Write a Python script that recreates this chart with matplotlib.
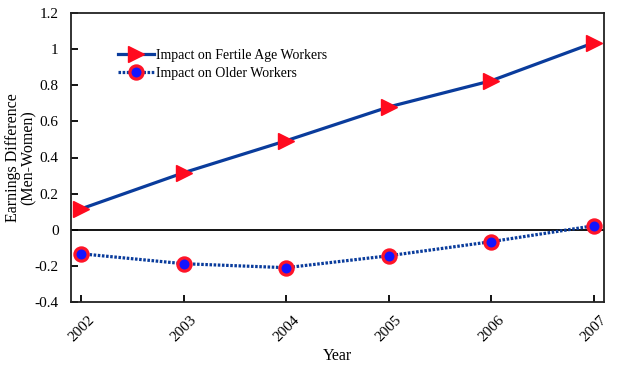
import matplotlib
matplotlib.use("Agg")
import matplotlib.pyplot as plt

years = [2002, 2003, 2004, 2005, 2006, 2007]
fertile = [0.116, 0.316, 0.493, 0.680, 0.825, 1.035]
older = [-0.133, -0.188, -0.210, -0.144, -0.066, 0.022]
yticks = [-0.4, -0.2, 0, 0.2, 0.4, 0.6, 0.8, 1, 1.2]
ytick_labels = ["-0.4", "-0.2", "0", "0.2", "0.4", "0.6", "0.8", "1", "1.2"]

plt.rcParams['font.family'] = ['Liberation Serif', 'DejaVu Serif']

fig = plt.figure(figsize=(6.17, 3.71), dpi=100)
ax = fig.add_axes([71/617, 1-302/371, (604-71)/617, (302-13)/371])

blue = '#0a3c9c'
ax.plot(years, fertile, color=blue, lw=2.3, marker='>', ms=12,
        mfc='#ff0a1e', mec='#ff0a1e', label='Impact on Fertile Age Workers')
ax.plot(years, older, color=blue, lw=2.3, ls=(0, (0.8, 0.5)), marker='o', ms=9.5,
        mfc='#1414ff', mec='#ff1428', mew=2.3, label='Impact on Older Workers')
ax.axhline(0, color='black', lw=1.3, zorder=0)

ax.set_xlim(2001.9, 2007.1)
ax.set_ylim(-0.4, 1.2)
ax.set_xticks(years)
ax.set_xticklabels([str(y) for y in years], rotation=45, fontsize=11)
ax.set_yticks(yticks)
ax.set_yticklabels(ytick_labels, fontsize=11)
ax.tick_params(direction='in', length=5, width=1.3)
ax.tick_params(axis='x', pad=8)
ax.tick_params(axis='y', pad=9)
for s in ax.spines.values():
    s.set_linewidth(1.3)
    s.set_color('#222222')

ax.set_xlabel('Year', fontsize=11.5, labelpad=3)
ax.set_ylabel('Earnings Difference\n(Men-Women)', fontsize=11.5, linespacing=1.0)
ax.yaxis.set_label_coords(-0.064, 0.5)

leg = ax.legend(loc='upper left', bbox_to_anchor=(0.078, 0.895), frameon=False,
                fontsize=10, handlelength=2.6, handletextpad=0.1,
                borderaxespad=0, labelspacing=0.35)

fig.savefig('out.png', dpi=100)
